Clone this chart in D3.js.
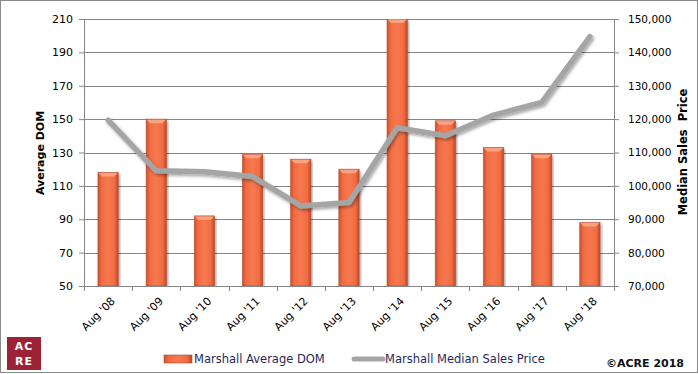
<!DOCTYPE html>
<html>
<head>
<meta charset="utf-8">
<script src="https://cdn.jsdelivr.net/npm/d3@7"></script>
<style>
  body { margin: 0; background: #fff; }
  svg { display: block; }
  text { font-family: "DejaVu Sans", Verdana, sans-serif; }
</style>
</head>
<body>
<svg></svg>
<script>
const width = 698;
const height = 374;

// chart data
const years = ["Aug '08", "Aug '09", "Aug '10", "Aug '11", "Aug '12", "Aug '13",
               "Aug '14", "Aug '15", "Aug '16", "Aug '17", "Aug '18"];
const avgDom = [118, 150, 92, 129, 126, 120, 210, 149, 133, 129, 88];
const medianPrice = [119700, 104500, 104200, 102800, 94000, 95000,
                     117400, 115000, 121200, 125000, 144700];
const domTicks = [50, 70, 90, 110, 130, 150, 170, 190, 210];
const priceTicks = [70000, 80000, 90000, 100000, 110000, 120000, 130000, 140000, 150000];

const margin = {top: 19, right: 84, bottom: 88, left: 84};
const plotW = width - margin.left - margin.right;
const plotH = height - margin.top - margin.bottom;

const svg = d3.select("svg")
    .attr("width", width)
    .attr("height", height);

const defs = svg.append("defs");

const grad = defs.append("linearGradient")
    .attr("id", "barGrad")
    .attr("x1", "0%").attr("x2", "100%");
grad.append("stop").attr("offset", "0%").attr("stop-color", "#c9532f");
grad.append("stop").attr("offset", "18%").attr("stop-color", "#f26b43");
grad.append("stop").attr("offset", "50%").attr("stop-color", "#f7794f");
grad.append("stop").attr("offset", "82%").attr("stop-color", "#f26b43");
grad.append("stop").attr("offset", "100%").attr("stop-color", "#b94a2a");

const shadow = defs.append("filter")
    .attr("id", "shadow")
    .attr("x", "-10%").attr("y", "-10%")
    .attr("width", "120%").attr("height", "130%");
shadow.append("feDropShadow")
    .attr("dx", 1.5).attr("dy", 2)
    .attr("stdDeviation", 1.5)
    .attr("flood-color", "#000")
    .attr("flood-opacity", 0.35);

defs.append("clipPath").attr("id", "plotClip")
  .append("rect")
    .attr("x", 0).attr("y", 0)
    .attr("width", plotW).attr("height", plotH);

// outer border
svg.append("rect")
    .attr("x", 0.5).attr("y", 0.5)
    .attr("width", width - 1).attr("height", height - 2)
    .attr("fill", "#fff")
    .attr("stroke", "#8a8a8a");

const g = svg.append("g")
    .attr("transform", `translate(${margin.left},${margin.top})`);

const x = d3.scaleBand()
    .domain(years)
    .range([0, plotW]);

const yLeft = d3.scaleLinear()
    .domain([50, 210])
    .range([plotH, 0]);

const yRight = d3.scaleLinear()
    .domain([70000, 150000])
    .range([plotH, 0]);

// gridlines
g.append("g")
  .selectAll("line")
  .data(domTicks)
  .enter().append("line")
    .attr("x1", 0).attr("x2", plotW)
    .attr("y1", d => Math.round(yLeft(d)) + 0.5)
    .attr("y2", d => Math.round(yLeft(d)) + 0.5)
    .attr("stroke", "#868686");

// bars
const barW = x.bandwidth() * 0.42;
const bars = g.append("g").attr("clip-path", "url(#plotClip)");

bars.selectAll(".bar")
    .data(years)
    .enter().append("rect")
    .attr("class", "bar")
    .attr("x", (d, i) => x(d) + (x.bandwidth() - barW) / 2)
    .attr("y", (d, i) => yLeft(avgDom[i]))
    .attr("width", barW)
    .attr("height", (d, i) => plotH - yLeft(avgDom[i]))
    .attr("fill", "url(#barGrad)")
    .attr("stroke", "#b4482a")
    .attr("stroke-width", 0.6)
    .attr("filter", "url(#shadow)");

// bevel cap on top of each bar
bars.selectAll(".cap")
    .data(years)
    .enter().append("path")
    .attr("class", "cap")
    .attr("d", (d, i) => {
        const x0 = x(d) + (x.bandwidth() - barW) / 2;
        const y0 = yLeft(avgDom[i]);
        return `M${x0 + 0.5},${y0 + 0.5} L${x0 + barW - 0.5},${y0 + 0.5} L${x0 + barW - 4},${y0 + 4} L${x0 + 4},${y0 + 4} Z`;
    })
    .attr("fill", "#f9a37f");

// price line
const line = d3.line()
    .x((d, i) => x(years[i]) + x.bandwidth() / 2)
    .y(d => yRight(d));

g.append("path")
    .datum(medianPrice)
    .attr("d", line)
    .attr("fill", "none")
    .attr("stroke", "#a5a5a5")
    .attr("stroke-width", 5.5)
    .attr("stroke-linejoin", "round")
    .attr("stroke-linecap", "round")
    .attr("filter", "url(#shadow)");

// left axis
const leftAxis = g.append("g")
    .call(d3.axisLeft(yLeft).tickValues(domTicks).tickSize(5).tickPadding(6));
leftAxis.select(".domain").attr("stroke", "#868686");
leftAxis.selectAll(".tick line").attr("stroke", "#868686");
leftAxis.selectAll("text")
    .attr("font-size", "11px")
    .attr("font-family", "'DejaVu Sans', Verdana, sans-serif")
    .attr("fill", "#000");

// right axis
const rightAxis = g.append("g")
    .attr("transform", `translate(${plotW},0)`)
    .call(d3.axisRight(yRight).tickValues(priceTicks).tickSize(5).tickPadding(9)
        .tickFormat(d3.format(",")));
rightAxis.select(".domain").attr("stroke", "#868686");
rightAxis.selectAll(".tick line").attr("stroke", "#868686");
rightAxis.selectAll("text")
    .attr("font-size", "10.5px")
    .attr("font-family", "'DejaVu Sans', Verdana, sans-serif")
    .attr("fill", "#000");

// bottom axis with ticks between categories
const bottom = g.append("g").attr("transform", `translate(0,${plotH})`);
bottom.append("line")
    .attr("x1", 0).attr("x2", plotW)
    .attr("y1", 0.5).attr("y2", 0.5)
    .attr("stroke", "#868686");
bottom.selectAll(".btick")
    .data(years.concat(["end"]))
    .enter().append("line")
    .attr("class", "btick")
    .attr("x1", (d, i) => Math.round(i * x.step()) + 0.5)
    .attr("x2", (d, i) => Math.round(i * x.step()) + 0.5)
    .attr("y1", 0).attr("y2", 5)
    .attr("stroke", "#868686");
bottom.selectAll(".blabel")
    .data(years)
    .enter().append("text")
    .attr("class", "blabel")
    .attr("transform", d => `translate(${x(d) + x.bandwidth() / 2 + 5},${13}) rotate(-45)`)
    .attr("text-anchor", "end")
    .attr("dy", "0.35em")
    .attr("font-size", "11px")
    .attr("fill", "#000")
    .text(d => d);

// axis titles
svg.append("text")
    .attr("transform", `translate(44,153) rotate(-90)`)
    .attr("text-anchor", "middle")
    .attr("font-family", "'Liberation Sans', Arial, sans-serif")
    .attr("font-weight", "bold")
    .attr("font-size", "11px")
    .text("Average DOM");

svg.append("text")
    .attr("transform", `translate(687,152) rotate(-90)`)
    .attr("text-anchor", "middle")
    .attr("font-family", "'Liberation Sans', Arial, sans-serif")
    .attr("font-weight", "bold")
    .attr("font-size", "11.5px")
    .attr("xml:space", "preserve")
    .text("Median Sales  Price");

// legend
const legend = svg.append("g");
legend.append("rect")
    .attr("x", 164).attr("y", 355)
    .attr("width", 28).attr("height", 8)
    .attr("fill", "url(#barGrad)")
    .attr("stroke", "#b4482a")
    .attr("stroke-width", 0.6);
legend.append("text")
    .attr("x", 194).attr("y", 363)
    .attr("font-size", "11.5px")
    .attr("fill", "#1f2a5a")
    .text("Marshall Average DOM");
legend.append("line")
    .attr("x1", 354).attr("x2", 383)
    .attr("y1", 359).attr("y2", 359)
    .attr("stroke", "#a5a5a5")
    .attr("stroke-width", 5)
    .attr("stroke-linecap", "round");
legend.append("text")
    .attr("x", 385).attr("y", 363)
    .attr("font-size", "11.5px")
    .attr("fill", "#1f2a5a")
    .text("Marshall Median Sales Price");

svg.append("text")
    .attr("x", 684).attr("y", 367)
    .attr("text-anchor", "end")
    .attr("font-size", "11px")
    .attr("font-weight", "bold")
    .attr("fill", "#111")
    .text("\u00a9ACRE 2018");

// logo
const logo = svg.append("g");
logo.append("rect")
    .attr("x", 7).attr("y", 337)
    .attr("width", 34).attr("height", 33)
    .attr("fill", "#9c2235");
logo.selectAll(".logoText")
    .data(["AC", "RE"])
    .enter().append("text")
    .attr("class", "logoText")
    .attr("x", 24)
    .attr("y", (d, i) => 349.5 + i * 15.5)
    .attr("text-anchor", "middle")
    .attr("font-family", "'Open Sans', sans-serif")
    .attr("font-weight", 600)
    .attr("font-size", "11px")
    .attr("letter-spacing", "1px")
    .attr("fill", "#fff")
    .text(d => d);
</script>
</body>
</html>
